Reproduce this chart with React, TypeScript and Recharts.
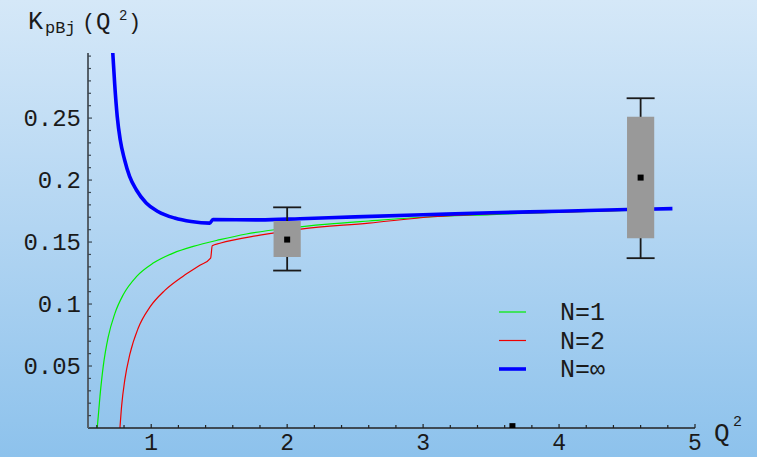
import React from "react";
import { ComposedChart, Line, Scatter, ErrorBar, XAxis, YAxis, ReferenceArea } from "recharts";

// N=1 curve
const n1Q = [0.603, 0.623, 0.647, 0.684, 0.733, 0.794, 0.893, 1.015, 1.162, 1.309, 1.505, 1.7, 2.0, 2.3, 2.6, 3.0, 3.5, 4.0, 4.5];
const n1K = [0, 0.0255, 0.0497, 0.0735, 0.0925, 0.1075, 0.1223, 0.133, 0.1411, 0.1465, 0.1519, 0.1565, 0.1612, 0.1645, 0.167, 0.17, 0.1722, 0.1742, 0.1756];

// N=2 curve
const n2Q = [0.77, 0.782, 0.806, 0.843, 0.904, 0.99, 1.1, 1.235, 1.358, 1.437, 1.449, 1.505, 1.8, 2.1, 2.6, 3.07, 3.44, 4.0, 4.5];
const n2K = [0, 0.0174, 0.039, 0.0595, 0.0805, 0.0975, 0.111, 0.1225, 0.1312, 0.137, 0.147, 0.149, 0.1556, 0.1605, 0.1653, 0.1704, 0.1726, 0.1742, 0.1756];

// N=infinity curve
const nInfQ = [0.712, 0.718, 0.731, 0.75, 0.772, 0.804, 0.841, 0.89, 0.963, 1.049, 1.172, 1.294, 1.43, 1.454, 1.8, 2.095, 2.5, 3.0, 3.5, 4.0, 4.5, 4.834];
const nInfK = [0.312, 0.3013, 0.278, 0.2513, 0.2325, 0.2164, 0.2029, 0.1922, 0.1815, 0.1747, 0.1694, 0.1666, 0.1653, 0.1681, 0.1679, 0.1688, 0.1703, 0.172, 0.1736, 0.1749, 0.1762, 0.177];

// experimental points
const expQ = [2.0, 4.6];
const expK = [0.152, 0.202];
const expErrLow = [0.025, 0.065];
const expErrHigh = [0.026, 0.064];
const boxQ0 = [1.9, 4.5];
const boxQ1 = [2.1, 4.7];
const boxLow = [0.138, 0.153];
const boxHigh = [0.167, 0.251];
const strayQ = [3.657];
const strayK = [0.0015];

// axes
const xTicks = [0.6, 0.8, 1, 1.2, 1.4, 1.6, 1.8, 2, 2.2, 2.4, 2.6, 2.8, 3, 3.2, 3.4, 3.6, 3.8, 4, 4.2, 4.4, 4.6, 4.8, 5];
const xMajor = [1, 2, 3, 4, 5];
const xLabels = ["1", "2", "3", "4", "5"];
const yTicks = [0.01, 0.02, 0.03, 0.04, 0.05, 0.06, 0.07, 0.08, 0.09, 0.1, 0.11, 0.12, 0.13, 0.14, 0.15, 0.16, 0.17, 0.18, 0.19, 0.2, 0.21, 0.22, 0.23, 0.24, 0.25, 0.26, 0.27, 0.28, 0.29, 0.3];
const yMajor = [0.05, 0.1, 0.15, 0.2, 0.25];
const yLabels = ["0.05", "0.1", "0.15", "0.2", "0.25"];

const series = [
  { name: "N=1", color: "#00ee00", width: 1.2, q: n1Q, k: n1K },
  { name: "N=2", color: "#ee0000", width: 1.2, q: n2Q, k: n2K },
  { name: "N=\u221e", color: "#0000ff", width: 3.6, q: nInfQ, k: nInfK },
];

const FONT = "'Liberation Mono', 'Courier New', monospace";

const findMajor = (v: number, majors: number[]) => majors.findIndex(m => Math.abs(m - v) < 1e-9);

function YTick(props: any) {
  const { x, y, payload } = props;
  const i = findMajor(payload.value, yMajor);
  return (
    <g>
      <line x1={x} x2={x + (i >= 0 ? 4 : 3)} y1={y} y2={y} stroke="#3a4650" strokeWidth={1.2} />
      {i >= 0 && (
        <text x={x - 7} y={y + 8} textAnchor="end" fontFamily={FONT} fontSize={24} fill="#1a1a1a">
          {yLabels[i]}
        </text>
      )}
    </g>
  );
}

function XTick(props: any) {
  const { x, y, payload } = props;
  const i = findMajor(payload.value, xMajor);
  return (
    <g>
      <line x1={x} x2={x} y1={y} y2={y - (i >= 0 ? 4 : 3)} stroke="#222" strokeWidth={1.2} />
      {i >= 0 && (
        <text x={x} y={y + 22} textAnchor="middle" fontFamily={FONT} fontSize={23} fill="#1a1a1a">
          {xLabels[i]}
        </text>
      )}
    </g>
  );
}

const SquareDot = (props: any) => {
  const { cx, cy } = props;
  if (cx == null || cy == null) return <g />;
  return <rect x={cx - 3} y={cy - 3} width={6} height={6} fill="#000" />;
};

export default function App() {
  const lineData = series.map(s => s.q.map((q, i) => ({ q, k: s.k[i] })));
  const expData = expQ.map((q, i) => ({ q, k: expK[i], err: [expErrLow[i], expErrHigh[i]] }));
  const strayData = strayQ.map((q, i) => ({ q, k: strayK[i] }));

  return (
    <div
      style={{
        position: "absolute",
        left: 0,
        top: 0,
        width: 757,
        height: 457,
        background: "linear-gradient(to bottom, #d5e8f8 0%, #b2d5f2 50%, #8dc2ec 100%)",
      }}
    >
      <ComposedChart width={757} height={457} margin={{ top: 53, right: 62, bottom: 0, left: 0 }}>
        <XAxis
          type="number"
          dataKey="q"
          domain={[0.535, 5]}
          allowDataOverflow
          ticks={xTicks}
          interval={0}
          height={29}
          tickSize={0}
          tickMargin={0}
          tickLine={false}
          tick={<XTick />}
          axisLine={{ stroke: "#222", strokeWidth: 1.3 }}
        />
        <YAxis
          type="number"
          dataKey="k"
          domain={[0, 0.3025]}
          allowDataOverflow
          ticks={yTicks}
          interval={0}
          width={88}
          tickSize={0}
          tickMargin={0}
          tickLine={false}
          tick={<YTick />}
          axisLine={{ stroke: "#55606a", strokeWidth: 2 }}
        />
        {series.map((s, i) => (
          <Line
            key={s.name}
            data={lineData[i]}
            dataKey="k"
            type="monotone"
            stroke={s.color}
            strokeWidth={s.width}
            dot={false}
            activeDot={false}
            isAnimationActive={false}
          />
        ))}
        {expQ.map((_, i) => (
          <ReferenceArea
            key={"box" + i}
            x1={boxQ0[i]}
            x2={boxQ1[i]}
            y1={boxLow[i]}
            y2={boxHigh[i]}
            fill="#999999"
            fillOpacity={1}
            stroke="none"
            {...({ zIndex: 450 } as any)}
          />
        ))}
        <Scatter data={expData} dataKey="k" shape={<SquareDot />} isAnimationActive={false}>
          <ErrorBar dataKey="err" direction="y" width={14} stroke="#1a1a1a" strokeWidth={1.8} isAnimationActive={false} />
        </Scatter>
        <Scatter data={strayData} dataKey="k" shape={<SquareDot />} isAnimationActive={false} />
      </ComposedChart>

      <svg width={757} height={457} style={{ position: "absolute", left: 0, top: 0, pointerEvents: "none" }}>
        <g fontFamily={FONT} fill="#1a1a1a">
          <text x={28} y={29} fontSize={25}>K</text>
          <text x={45} y={33} fontSize={17}>pBj</text>
          <text x={82} y={29} fontSize={22}>(</text>
          <text x={96} y={29} fontSize={24}>Q</text>
          <text x={119} y={20} fontSize={14}>2</text>
          <text x={128} y={29} fontSize={22}>)</text>
          <text x={714} y={441} fontSize={26}>Q</text>
          <text x={733} y={426} fontSize={15}>2</text>
        </g>
        {series.map((s, i) => (
          <g key={s.name}>
            <line x1={499} x2={526} y1={312 + i * 28.5} y2={312 + i * 28.5} stroke={s.color} strokeWidth={s.width} />
            <text x={560} y={320 + i * 28.5} fontFamily={FONT} fontSize={25} fill="#1a1a1a">
              {s.name}
            </text>
          </g>
        ))}
      </svg>
    </div>
  );
}
